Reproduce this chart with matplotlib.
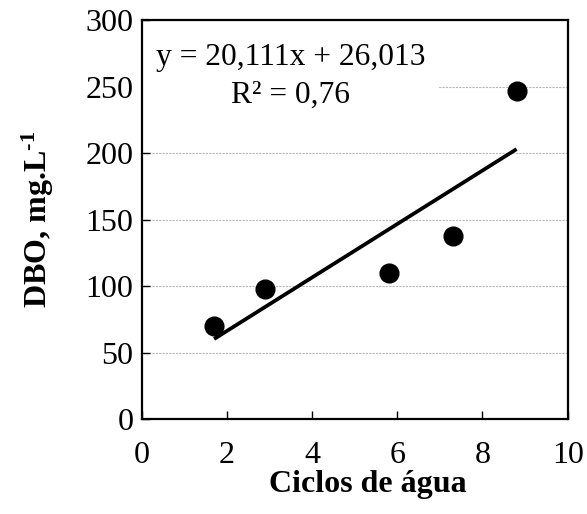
import matplotlib
matplotlib.use("Agg")
import matplotlib.pyplot as plt
from matplotlib.patches import Rectangle
import numpy as np

x_vals = [1.7, 2.9, 5.8, 7.3, 8.8]
y_vals = [70, 98, 110, 138, 247]
slope = 20.111
intercept = 26.013
eq_line1 = "y = 20,111x + 26,013"
eq_line2 = "R² = 0,76"
x_ticks = [0, 2, 4, 6, 8, 10]
y_ticks = [0, 50, 100, 150, 200, 250, 300]

plt.rcParams['font.family'] = ['Liberation Serif', 'DejaVu Serif']
plt.rcParams['mathtext.fontset'] = 'custom'
plt.rcParams['mathtext.rm'] = 'Liberation Serif'
plt.rcParams['mathtext.bf'] = 'Liberation Serif:bold'
plt.rcParams['mathtext.it'] = 'Liberation Serif:italic'

fig = plt.figure(figsize=(5.87, 5.14), dpi=100)
ax = fig.add_axes([0.2414, 0.1848, 0.7257, 0.776])
ax.set_xlim(0, 10)
ax.set_ylim(0, 300)
ax.set_xticks(x_ticks)
ax.set_yticks(y_ticks)
ax.set_xticklabels([str(t) for t in x_ticks])
ax.set_yticklabels([str(t) for t in y_ticks])
ax.tick_params(direction='in', labelsize=23, length=6, width=1, top=False, right=False)
ax.tick_params(axis='x', pad=16)
ax.tick_params(axis='y', pad=6)
ax.yaxis.grid(True, linestyle=(0, (2, 1)), color='#b8b8b8', linewidth=0.8)
ax.set_axisbelow(True)
for s in ax.spines.values():
    s.set_linewidth(1.6)

# white label box hiding the gridline behind the equation
ax.add_patch(Rectangle((0, 228), 6.96, 67, facecolor='white', edgecolor='none', zorder=1.5))

xs = np.array([min(x_vals), max(x_vals)])
ax.plot(xs, slope * xs + intercept, color='black', linewidth=2.7, zorder=3, solid_capstyle='butt')
ax.plot(x_vals, y_vals, 'o', color='black', markersize=13.5, zorder=4)

ax.text(3.51, 266, eq_line1, fontsize=22.7, ha='center', va='baseline', zorder=2)
ax.text(3.50, 237.5, eq_line2, fontsize=22.7, ha='center', va='baseline', zorder=2)

ax.set_xlabel("Ciclos de água", fontsize=23, fontweight='bold', labelpad=0)
ax.xaxis.label.set_x(0.530)
ax.set_ylabel("DBO, mg.L$^{\\mathbf{\u2010}\\mathbf{1}}$", fontsize=23, fontweight='bold', labelpad=21)

fig.savefig("out.png", dpi=100)
